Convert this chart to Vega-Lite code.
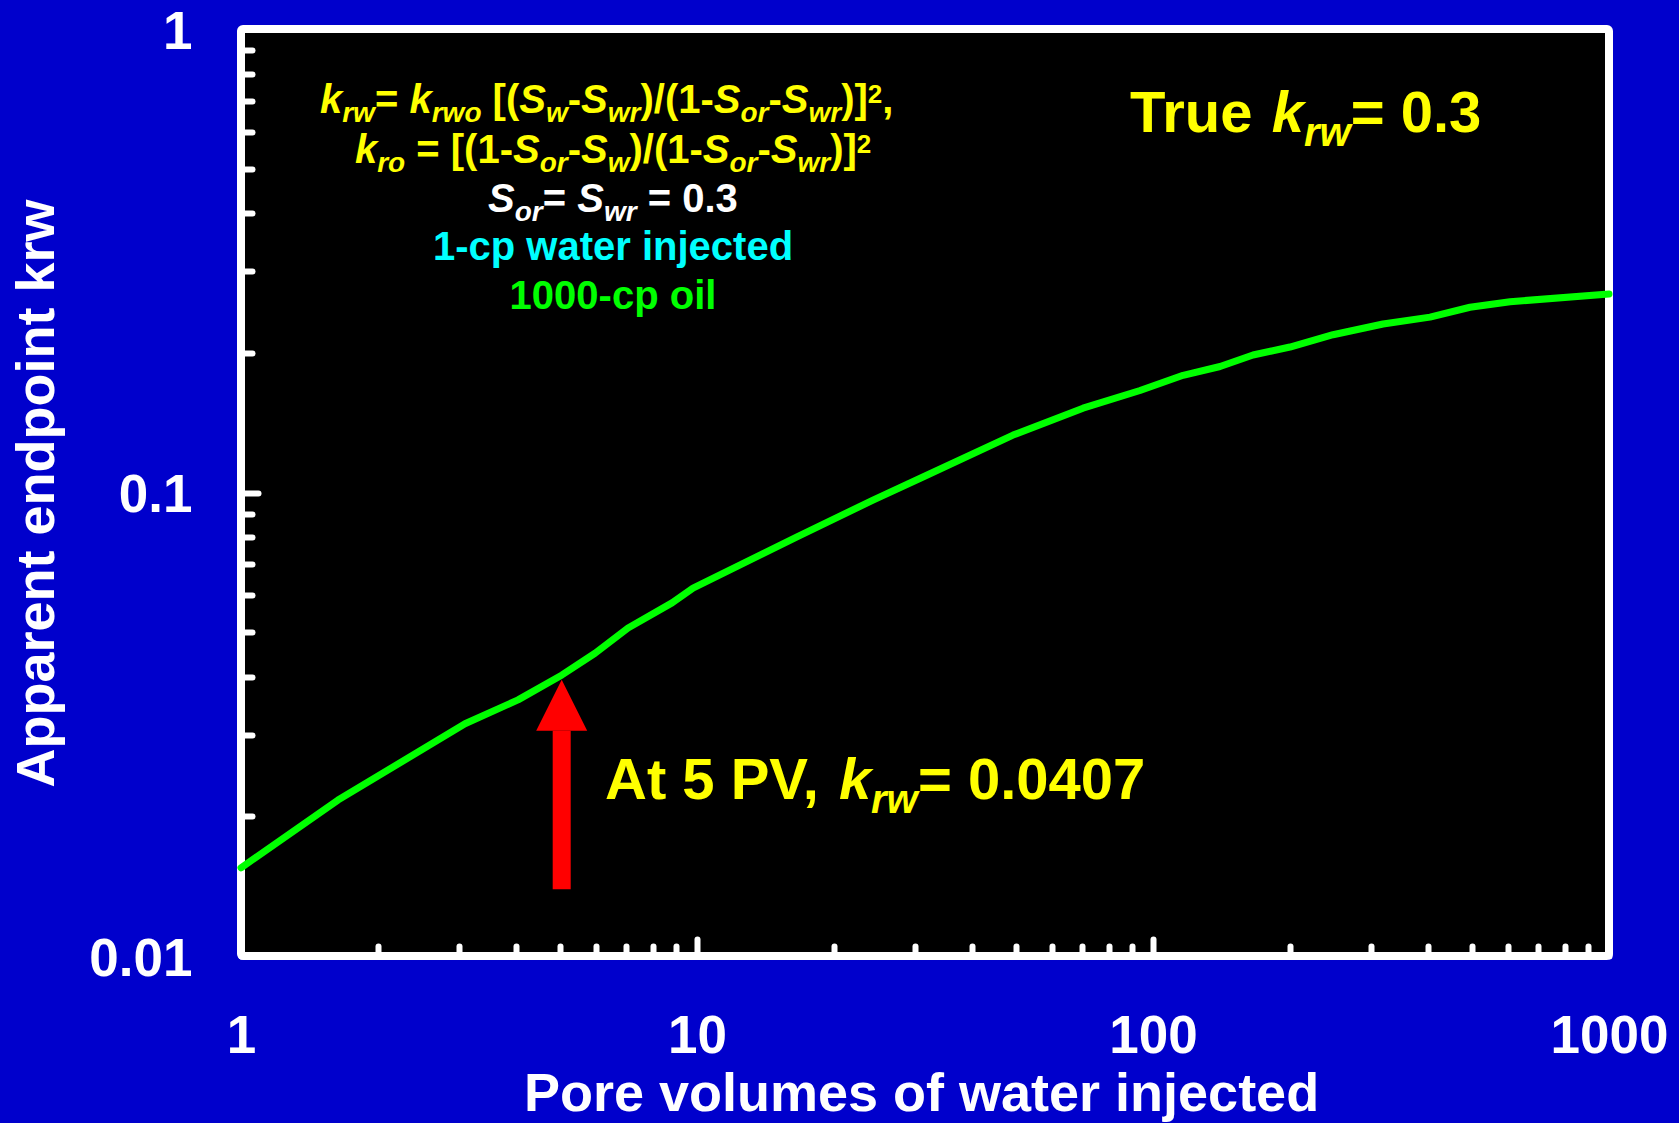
{
  "$schema": "https://vega.github.io/schema/vega-lite/v6.json",
  "width": 1368,
  "height": 927,
  "autosize": {"type": "none"},
  "padding": {"left": 241, "top": 29, "right": 70, "bottom": 167},
  "background": "#0000cc",
  "config": {
    "view": {"stroke": "#ffffff", "strokeWidth": 8, "fill": "#000000", "cornerRadius": 2},
    "font": "Liberation Sans"
  },
  "datasets": {
    "curve": [
      {"pv": 1, "krw": 0.0155},
      {"pv": 1.632, "krw": 0.0217},
      {"pv": 3.099, "krw": 0.0317},
      {"pv": 4.051, "krw": 0.0357},
      {"pv": 5.058, "krw": 0.0404},
      {"pv": 5.975, "krw": 0.045},
      {"pv": 7.06, "krw": 0.051},
      {"pv": 8.814, "krw": 0.0578},
      {"pv": 9.8, "krw": 0.0622},
      {"pv": 16.57, "krw": 0.0802},
      {"pv": 24.32, "krw": 0.0963},
      {"pv": 31.3, "krw": 0.108},
      {"pv": 49.32, "krw": 0.133},
      {"pv": 70.23, "krw": 0.152},
      {"pv": 93.65, "krw": 0.166},
      {"pv": 116.4, "krw": 0.179},
      {"pv": 140.3, "krw": 0.187},
      {"pv": 165.7, "krw": 0.198},
      {"pv": 199.7, "krw": 0.206},
      {"pv": 248.2, "krw": 0.219},
      {"pv": 319.5, "krw": 0.231},
      {"pv": 405.1, "krw": 0.239},
      {"pv": 495.6, "krw": 0.251},
      {"pv": 606.7, "krw": 0.258},
      {"pv": 1000, "krw": 0.268}
    ],
    "arrow": [
      {"pv": 5.05, "krw": 0.01394, "krwHead": 0.0306}
    ],
    "labels": [
      {"t": "k", "pv": 1.4902, "krw": 0.6588, "kind": "it", "group": "formula"},
      {"t": "rw", "pv": 1.667, "krw": 0.6588, "kind": "sub", "group": "formula"},
      {"t": "=", "pv": 1.9662, "krw": 0.6588, "kind": "up", "group": "formula"},
      {"t": "k", "pv": 2.3405, "krw": 0.6588, "kind": "it", "group": "formula"},
      {"t": "rwo", "pv": 2.6194, "krw": 0.6588, "kind": "sub", "group": "formula"},
      {"t": "[(", "pv": 3.5625, "krw": 0.6588, "kind": "up", "group": "formula"},
      {"t": "S", "pv": 4.0767, "krw": 0.6588, "kind": "it", "group": "formula"},
      {"t": "w", "pv": 4.6651, "krw": 0.6588, "kind": "sub", "group": "formula"},
      {"t": "-", "pv": 5.208, "krw": 0.6588, "kind": "up", "group": "formula"},
      {"t": "S", "pv": 5.5697, "krw": 0.6588, "kind": "it", "group": "formula"},
      {"t": "wr", "pv": 6.3737, "krw": 0.6588, "kind": "sub", "group": "formula"},
      {"t": ")/(1-", "pv": 7.5179, "krw": 0.6588, "kind": "up", "group": "formula"},
      {"t": "S", "pv": 10.885, "krw": 0.6588, "kind": "it", "group": "formula"},
      {"t": "or", "pv": 12.456, "krw": 0.6588, "kind": "sub", "group": "formula"},
      {"t": "-", "pv": 14.345, "krw": 0.6588, "kind": "up", "group": "formula"},
      {"t": "S", "pv": 15.345, "krw": 0.6588, "kind": "it", "group": "formula"},
      {"t": "wr", "pv": 17.56, "krw": 0.6588, "kind": "sub", "group": "formula"},
      {"t": ")]", "pv": 20.712, "krw": 0.6588, "kind": "up", "group": "formula"},
      {"t": "2", "pv": 23.69, "krw": 0.6588, "kind": "sup", "group": "formula"},
      {"t": ",", "pv": 25.489, "krw": 0.6588, "kind": "up", "group": "formula"},

      {"t": "k", "pv": 1.7783, "krw": 0.514, "kind": "it", "group": "formula"},
      {"t": "ro", "pv": 1.9892, "krw": 0.514, "kind": "sub", "group": "formula"},
      {"t": "= [(1-", "pv": 2.4234, "krw": 0.514, "kind": "up", "group": "formula"},
      {"t": "S", "pv": 3.9491, "krw": 0.514, "kind": "it", "group": "formula"},
      {"t": "or", "pv": 4.5189, "krw": 0.514, "kind": "sub", "group": "formula"},
      {"t": "-", "pv": 5.2054, "krw": 0.514, "kind": "up", "group": "formula"},
      {"t": "S", "pv": 5.5668, "krw": 0.514, "kind": "it", "group": "formula"},
      {"t": "w", "pv": 6.3705, "krw": 0.514, "kind": "sub", "group": "formula"},
      {"t": ")/(1-", "pv": 7.1117, "krw": 0.514, "kind": "up", "group": "formula"},
      {"t": "S", "pv": 10.297, "krw": 0.514, "kind": "it", "group": "formula"},
      {"t": "or", "pv": 11.783, "krw": 0.514, "kind": "sub", "group": "formula"},
      {"t": "-", "pv": 13.573, "krw": 0.514, "kind": "up", "group": "formula"},
      {"t": "S", "pv": 14.516, "krw": 0.514, "kind": "it", "group": "formula"},
      {"t": "wr", "pv": 16.611, "krw": 0.514, "kind": "sub", "group": "formula"},
      {"t": ")]", "pv": 19.593, "krw": 0.514, "kind": "up", "group": "formula"},
      {"t": "2", "pv": 22.41, "krw": 0.514, "kind": "sup", "group": "formula"},

      {"t": "S", "pv": 3.4807, "krw": 0.40288, "kind": "it", "group": "saturation"},
      {"t": "or", "pv": 3.9831, "krw": 0.40288, "kind": "sub", "group": "saturation"},
      {"t": "=", "pv": 4.588, "krw": 0.40288, "kind": "up", "group": "saturation"},
      {"t": "S", "pv": 5.4611, "krw": 0.40288, "kind": "it", "group": "saturation"},
      {"t": "wr", "pv": 6.2493, "krw": 0.40288, "kind": "sub", "group": "saturation"},
      {"t": "= 0.3", "pv": 7.7963, "krw": 0.40288, "kind": "up", "group": "saturation"},

      {"t": "1-cp water injected", "pv": 2.6366, "krw": 0.3174, "kind": "up", "group": "water"},
      {"t": "1000-cp oil", "pv": 3.8818, "krw": 0.24881, "kind": "up", "group": "oil"},

      {"t": "True", "pv": 89.04, "krw": 0.59948, "kind": "bigup", "group": "result"},
      {"t": "k", "pv": 182.19, "krw": 0.59948, "kind": "bigit", "group": "result"},
      {"t": "rw", "pv": 214.36, "krw": 0.59948, "kind": "bigsub", "group": "result"},
      {"t": "= 0.3", "pv": 271.36, "krw": 0.59948, "kind": "bigup", "group": "result"},

      {"t": "At 5 PV,", "pv": 6.2842, "krw": 0.021817, "kind": "bigup", "group": "result"},
      {"t": "k", "pv": 20.483, "krw": 0.021817, "kind": "bigit", "group": "result"},
      {"t": "rw", "pv": 24.076, "krw": 0.021817, "kind": "bigsub", "group": "result"},
      {"t": "= 0.0407", "pv": 30.509, "krw": 0.021817, "kind": "bigup", "group": "result"}
    ]
  },
  "layer": [
    {
      "data": {"name": "curve"},
      "mark": {"type": "line", "color": "#00ff00", "strokeWidth": 7, "strokeCap": "round", "strokeJoin": "round"},
      "encoding": {
        "x": {
          "field": "pv", "type": "quantitative",
          "scale": {"type": "log", "domain": [1, 1000], "nice": false},
          "axis": {
            "title": "Pore volumes of water injected",
            "values": [1,2,3,4,5,6,7,8,9,10,20,30,40,50,60,70,80,90,100,200,300,400,500,600,700,800,900,1000],
            "domain": false, "grid": false,
            "tickColor": "#ffffff", "tickWidth": 6, "tickCap": "round",
            "tickSize": {"condition": {"test": "indexof([1,10,100,1000], datum.value) >= 0", "value": -17}, "value": -10},
            "labelExpr": "indexof([1,10,100,1000], datum.value) >= 0 ? format(datum.value, 'd') : ''",
            "labelFont": "Liberation Sans", "labelFontSize": 53, "labelFontWeight": "bold", "labelColor": "#ffffff",
            "labelPadding": 71, "labelFlush": false, "labelOverlap": false, "labelBound": false,
            "labelAlign": "center", "labelBaseline": "top",
            "titleFont": "Liberation Sans", "titleFontSize": 54, "titleFontWeight": "bold", "titleColor": "#ffffff",
            "titleX": 680, "titleY": 154, "titleAlign": "center", "titleBaseline": "alphabetic"
          }
        },
        "y": {
          "field": "krw", "type": "quantitative",
          "scale": {"type": "log", "domain": [0.01, 1], "nice": false},
          "axis": {
            "title": "Apparent endpoint krw",
            "values": [0.01,0.02,0.03,0.04,0.05,0.06,0.07,0.08,0.09,0.1,0.2,0.3,0.4,0.5,0.6,0.7,0.8,0.9,1],
            "domain": false, "grid": false,
            "tickColor": "#ffffff", "tickWidth": 6, "tickCap": "round",
            "tickSize": {"condition": {"test": "indexof([0.01,0.1,1], datum.value) >= 0", "value": -17}, "value": -11},
            "labelExpr": "indexof([0.01,0.1,1], datum.value) >= 0 ? format(datum.value, '~g') : ''",
            "labelFont": "Liberation Sans", "labelFontSize": 53, "labelFontWeight": "bold", "labelColor": "#ffffff",
            "labelPadding": 66, "labelOffset": 3, "labelFlush": false, "labelOverlap": false, "labelBound": false,
            "labelAlign": "right", "labelBaseline": "middle",
            "titleFont": "Liberation Sans", "titleFontSize": 54, "titleFontWeight": "bold", "titleColor": "#ffffff",
            "titleAngle": 270, "titleX": -188, "titleY": 464, "titleAlign": "center", "titleBaseline": "alphabetic"
          }
        }
      }
    },
    {
      "data": {"name": "arrow"},
      "mark": {"type": "rule", "color": "#ff0000", "strokeWidth": 18, "strokeCap": "butt"},
      "encoding": {
        "x": {"field": "pv", "type": "quantitative"},
        "y": {"field": "krw", "type": "quantitative"},
        "y2": {"field": "krwHead"}
      }
    },
    {
      "data": {"name": "arrow"},
      "mark": {"type": "point", "shape": "M0,-2L-1,0L1,0Z", "size": 2601, "filled": true, "color": "#ff0000", "opacity": 1, "strokeWidth": 0},
      "encoding": {
        "x": {"field": "pv", "type": "quantitative"},
        "y": {"field": "krwHead", "type": "quantitative"}
      }
    },
    {
      "data": {"name": "labels"},
      "transform": [{"filter": "datum.kind == 'up'"}],
      "mark": {"type": "text", "align": "left", "baseline": "alphabetic", "font": "Liberation Sans", "fontWeight": "bold", "fontSize": 40},
      "encoding": {
        "x": {"field": "pv", "type": "quantitative"},
        "y": {"field": "krw", "type": "quantitative"},
        "text": {"field": "t"},
        "color": {"field": "group", "type": "nominal", "legend": null, "scale": {"domain": ["formula", "saturation", "water", "oil", "result"], "range": ["#ffff00", "#ffffff", "#00ffff", "#00ff00", "#ffff00"]}}
      }
    },
    {
      "data": {"name": "labels"},
      "transform": [{"filter": "datum.kind == 'it'"}],
      "mark": {"type": "text", "align": "left", "baseline": "alphabetic", "font": "Liberation Sans", "fontWeight": "bold", "fontStyle": "italic", "fontSize": 40},
      "encoding": {
        "x": {"field": "pv", "type": "quantitative"},
        "y": {"field": "krw", "type": "quantitative"},
        "text": {"field": "t"},
        "color": {"field": "group", "type": "nominal", "legend": null, "scale": {"domain": ["formula", "saturation", "water", "oil", "result"], "range": ["#ffff00", "#ffffff", "#00ffff", "#00ff00", "#ffff00"]}}
      }
    },
    {
      "data": {"name": "labels"},
      "transform": [{"filter": "datum.kind == 'sub'"}],
      "mark": {"type": "text", "align": "left", "baseline": "alphabetic", "font": "Liberation Sans", "fontWeight": "bold", "fontStyle": "italic", "fontSize": 28, "dy": 9},
      "encoding": {
        "x": {"field": "pv", "type": "quantitative"},
        "y": {"field": "krw", "type": "quantitative"},
        "text": {"field": "t"},
        "color": {"field": "group", "type": "nominal", "legend": null, "scale": {"domain": ["formula", "saturation", "water", "oil", "result"], "range": ["#ffff00", "#ffffff", "#00ffff", "#00ff00", "#ffff00"]}}
      }
    },
    {
      "data": {"name": "labels"},
      "transform": [{"filter": "datum.kind == 'sup'"}],
      "mark": {"type": "text", "align": "left", "baseline": "alphabetic", "font": "Liberation Sans", "fontWeight": "bold", "fontSize": 26, "dy": -10},
      "encoding": {
        "x": {"field": "pv", "type": "quantitative"},
        "y": {"field": "krw", "type": "quantitative"},
        "text": {"field": "t"},
        "color": {"field": "group", "type": "nominal", "legend": null, "scale": {"domain": ["formula", "saturation", "water", "oil", "result"], "range": ["#ffff00", "#ffffff", "#00ffff", "#00ff00", "#ffff00"]}}
      }
    },
    {
      "data": {"name": "labels"},
      "transform": [{"filter": "datum.kind == 'bigup'"}],
      "mark": {"type": "text", "align": "left", "baseline": "alphabetic", "font": "Liberation Sans", "fontWeight": "bold", "fontSize": 58},
      "encoding": {
        "x": {"field": "pv", "type": "quantitative"},
        "y": {"field": "krw", "type": "quantitative"},
        "text": {"field": "t"},
        "color": {"field": "group", "type": "nominal", "legend": null, "scale": {"domain": ["formula", "saturation", "water", "oil", "result"], "range": ["#ffff00", "#ffffff", "#00ffff", "#00ff00", "#ffff00"]}}
      }
    },
    {
      "data": {"name": "labels"},
      "transform": [{"filter": "datum.kind == 'bigit'"}],
      "mark": {"type": "text", "align": "left", "baseline": "alphabetic", "font": "Liberation Sans", "fontWeight": "bold", "fontStyle": "italic", "fontSize": 58},
      "encoding": {
        "x": {"field": "pv", "type": "quantitative"},
        "y": {"field": "krw", "type": "quantitative"},
        "text": {"field": "t"},
        "color": {"field": "group", "type": "nominal", "legend": null, "scale": {"domain": ["formula", "saturation", "water", "oil", "result"], "range": ["#ffff00", "#ffffff", "#00ffff", "#00ff00", "#ffff00"]}}
      }
    },
    {
      "data": {"name": "labels"},
      "transform": [{"filter": "datum.kind == 'bigsub'"}],
      "mark": {"type": "text", "align": "left", "baseline": "alphabetic", "font": "Liberation Sans", "fontWeight": "bold", "fontStyle": "italic", "fontSize": 40, "dy": 14},
      "encoding": {
        "x": {"field": "pv", "type": "quantitative"},
        "y": {"field": "krw", "type": "quantitative"},
        "text": {"field": "t"},
        "color": {"field": "group", "type": "nominal", "legend": null, "scale": {"domain": ["formula", "saturation", "water", "oil", "result"], "range": ["#ffff00", "#ffffff", "#00ffff", "#00ff00", "#ffff00"]}}
      }
    }
  ]
}
